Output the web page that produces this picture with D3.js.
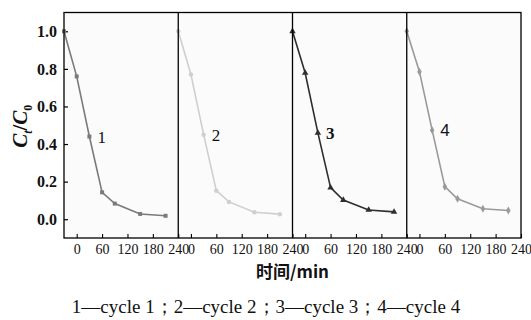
<!DOCTYPE html>
<html>
<head>
<meta charset="utf-8">
<script src="https://cdn.jsdelivr.net/npm/d3@7"></script>
<style>
  body { margin: 0; background: #fff; }
  svg { display: block; }
</style>
</head>
<body>
<div id="chart"></div>
<script>
// sampling times (min), -30 = dark adsorption
const times = [-30, 0, 30, 60, 90, 150, 210];
const cycle1 = [1.0, 0.76, 0.44, 0.143, 0.083, 0.028, 0.018];
const cycle2 = [1.0, 0.77, 0.45, 0.152, 0.092, 0.037, 0.027];
const cycle3 = [1.0, 0.778, 0.459, 0.168, 0.102, 0.049, 0.039];
const cycle4 = [1.0, 0.785, 0.474, 0.173, 0.109, 0.056, 0.046];
const cycleNames = ['1', '2', '3', '4'];
const xTicks = [0, 60, 120, 180, 240];
const yTicks = [0, 0.2, 0.4, 0.6, 0.8, 1.0];
const caption = '1\u2014cycle 1\uff1b2\u2014cycle 2\uff1b3\u2014cycle 3\uff1b4\u2014cycle 4';

const SERIF = '"Liberation Serif", "DejaVu Serif", "Times New Roman", serif';
const W = 531, H = 320;
const margin = {top: 12.5, left: 64, right: 10, bottom: 82};
const plotW = W - margin.left - margin.right;
const plotH = H - margin.top - margin.bottom;
const panelW = plotW / 4;

const series = [cycle1, cycle2, cycle3, cycle4];
const colors = ['#7a7a7a', '#cfcfcf', '#2e2e2e', '#9a9a9a'];
const symbols = [d3.symbolSquare, d3.symbolCircle, d3.symbolTriangle, d3.symbolDiamond];
const symSize = [16, 16, 18, 18];
const labelFont = [SERIF, SERIF, SERIF, '"Liberation Sans", Arial, sans-serif'];
const labelWeight = ['normal', 'normal', 'bold', 'normal'];

const svg = d3.select('#chart').append('svg').attr('width', W).attr('height', H);
const g = svg.append('g').attr('transform', `translate(${margin.left},${margin.top})`);

const y = d3.scaleLinear().domain([-0.1, 1.1]).range([plotH, 0]);

// light panel background
g.append('rect').attr('width', plotW).attr('height', plotH).attr('fill', '#fbfbfb');

// y axis (ticks inward)
const yAxis = g.append('g')
  .call(d3.axisLeft(y).tickValues(yTicks).tickFormat(d3.format('.1f')).tickSizeInner(-4).tickSizeOuter(0).tickPadding(7))
  .attr('font-family', SERIF);
yAxis.select('.domain').remove();
yAxis.selectAll('line').attr('stroke', '#000').attr('stroke-width', 1.2);
yAxis.selectAll('text')
  .attr('font-weight', 'bold')
  .attr('font-size', 16)
  .attr('fill', '#111');

series.forEach((vals, i) => {
  const x = d3.scaleLinear().domain([-30, 240]).range([i * panelW, (i + 1) * panelW]);
  const pts = times.map((t, k) => ({t: t, v: vals[k]}));

  const xa = g.append('g')
    .attr('transform', `translate(0,${plotH})`)
    .call(d3.axisBottom(x).tickValues(xTicks).tickSizeInner(-4).tickSizeOuter(0).tickPadding(6))
    .attr('font-family', SERIF);
  xa.select('.domain').remove();
  xa.selectAll('line').attr('stroke', '#000').attr('stroke-width', 1.1);
  xa.selectAll('text')
    .attr('font-size', 14)
    .attr('fill', '#111');

  const line = d3.line().x(d => x(d.t)).y(d => y(d.v));
  g.append('path')
    .datum(pts)
    .attr('d', line)
    .attr('fill', 'none')
    .attr('stroke', colors[i])
    .attr('stroke-width', 1.6);

  g.selectAll('.m' + i)
    .data(pts)
    .enter().append('path')
    .attr('class', 'm' + i)
    .attr('transform', d => `translate(${x(d.t)},${y(d.v)})`)
    .attr('d', d3.symbol().type(symbols[i]).size(symSize[i]))
    .attr('fill', colors[i]);

  // curve label next to the third point
  g.append('text')
    .attr('x', x(times[2]) + 8)
    .attr('y', y(vals[2]) + 6)
    .attr('font-family', labelFont[i])
    .attr('font-weight', labelWeight[i])
    .attr('font-size', 17)
    .attr('fill', '#111')
    .text(cycleNames[i]);

  if (i > 0) {
    g.append('line')
      .attr('x1', i * panelW).attr('x2', i * panelW)
      .attr('y1', 0).attr('y2', plotH)
      .attr('stroke', '#000').attr('stroke-width', 1.3);
  }
});

// frame
g.append('rect')
  .attr('width', plotW).attr('height', plotH)
  .attr('fill', 'none').attr('stroke', '#000').attr('stroke-width', 1.3);

// axis titles
const yt = svg.append('text')
  .attr('transform', `translate(27,${margin.top + plotH / 2 + 1}) rotate(-90)`)
  .attr('text-anchor', 'middle')
  .attr('font-family', SERIF)
  .attr('font-weight', 'bold')
  .attr('font-style', 'italic')
  .attr('font-size', 21)
  .attr('fill', '#111');
yt.append('tspan').text('C');
yt.append('tspan').attr('dy', 5).attr('font-size', 12).text('t');
yt.append('tspan').attr('dy', -5).attr('font-style', 'normal').text('/');
yt.append('tspan').text('C');
yt.append('tspan').attr('dy', 5).attr('font-size', 12).attr('font-style', 'normal').text('0');

svg.append('text')
  .attr('x', margin.left + plotW / 2)
  .attr('y', 278)
  .attr('text-anchor', 'middle')
  .attr('font-family', '"Noto Sans CJK SC", ' + SERIF)
  .attr('font-weight', 'bold')
  .attr('font-size', 17)
  .attr('fill', '#111')
  .text('时间/min');

svg.append('text')
  .attr('x', 266)
  .attr('y', 313)
  .attr('text-anchor', 'middle')
  .attr('font-family', SERIF)
  .attr('font-size', 19)
  .attr('fill', '#111')
  .text(caption);
</script>
</body>
</html>
